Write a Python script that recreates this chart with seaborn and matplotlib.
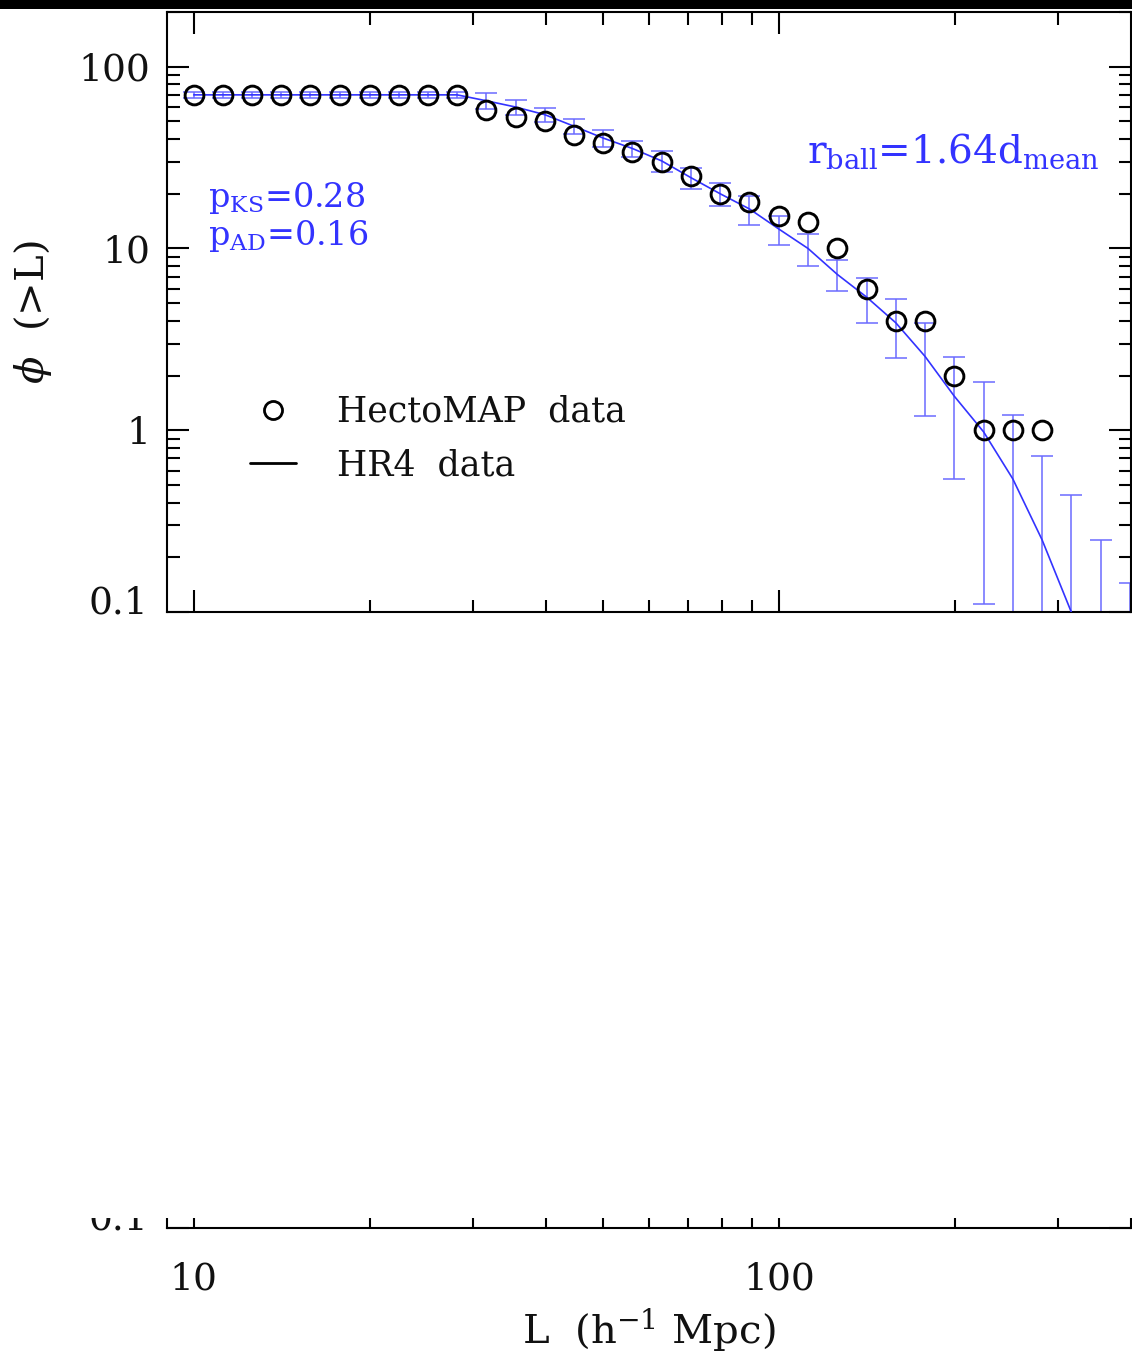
import numpy as np
import pandas as pd
import matplotlib
matplotlib.use("Agg")
import matplotlib.pyplot as plt
import seaborn as sns
from matplotlib.patches import Rectangle
from matplotlib.lines import Line2D
from matplotlib.ticker import FixedLocator, NullFormatter, FixedFormatter

# ---------------- data ----------------
L_bins = [10.0, 11.2, 12.6, 14.1, 15.8, 17.8, 20.0, 22.4, 25.1, 28.2,
          31.6, 35.5, 39.8, 44.7, 50.1, 56.2, 63.1, 70.8, 79.4, 89.1,
          100.0, 112.2, 125.9, 141.3, 158.5, 177.8, 199.5, 223.9, 251.2, 281.8,
          316.2, 354.8, 398.1]

hecto_phi = [70, 70, 70, 70, 70, 70, 70, 70, 70, 70,
             58, 53, 50, 42, 38, 34, 30, 25, 20, 18,
             15, 14, 10, 6, 4, 4, 2, 1, 1, 1]

hr4_phi = [70, 70, 70, 70, 70, 70, 70, 70, 70, 70,
           65, 60, 54.5, 47, 40.5, 35.5, 30.3, 24.5, 20.0, 16.5,
           12.8, 10.0, 7.2, 5.4, 3.9, 2.55, 1.54, 0.98, 0.54, 0.25,
           0.10, 0.05, 0.02]

hr4_err = [2.5, 2.5, 2.5, 2.5, 2.5, 2.5, 2.5, 2.5, 2.5, 2.5,
           6.5, 5.5, 5.0, 4.5, 4.3, 3.5, 4.0, 3.3, 2.8, 3.0,
           2.3, 1.95, 1.4, 1.5, 1.4, 1.35, 1.0, 0.87, 0.67, 0.47,
           0.34, 0.2, 0.125]

y_ticks = [0.1, 1, 10, 100]
y_ticklabels = ["", "1", "10", "100"]   # "0.1" drawn separately (sits on the axis)
bottom_label = "0.1"
x_ticks = [10, 100]
x_ticklabels = ["10", "100"]
x_minor = [20, 30, 40, 50, 60, 70, 80, 90, 200, 300]
y_minor = [0.2, 0.3, 0.4, 0.5, 0.6, 0.7, 0.8, 0.9,
           2, 3, 4, 5, 6, 7, 8, 9, 20, 30, 40, 50, 60, 70, 80, 90, 200]

hecto_df = pd.DataFrame({"L": L_bins[:len(hecto_phi)], "phi": hecto_phi})
hr4_df = pd.DataFrame({"L": L_bins, "phi": hr4_phi, "err": hr4_err})

# ---------------- style ----------------
sns.set_theme(style="ticks")
plt.rcParams["font.family"] = ["DejaVu Serif"]
plt.rcParams["mathtext.fontset"] = "dejavuserif"
plt.rcParams["axes.linewidth"] = 1.5

BLUE_LINE = (0.2, 0.2, 1.0)
BLUE_ERR = (0.42, 0.42, 1.0)
BLUE_TXT = (0.2, 0.2, 1.0)
INK = "#111111"
TICK_FS = 27

W, H = 1132, 1353
fig = plt.figure(figsize=(W / 100, H / 100), dpi=100)
fig.patch.set_facecolor("white")

left = 167 / W
width = (1131 - 167) / W
h_ax = 600 / H
ax = fig.add_axes([left, 1 - 612 / H, width, h_ax])
ax2 = fig.add_axes([left, 1 - 1228 / H, width, h_ax])


def style_axis(a, show_x_labels):
    a.set_xscale("log")
    a.set_yscale("log")
    a.set_xlim(9, 400)
    a.set_ylim(0.1, 200)
    a.set_facecolor("white")
    for s in a.spines.values():
        s.set_visible(True)
        s.set_linewidth(1.5)
        s.set_color("black")
    a.xaxis.set_major_locator(FixedLocator(x_ticks))
    a.xaxis.set_minor_locator(FixedLocator(x_minor))
    a.yaxis.set_major_locator(FixedLocator(y_ticks))
    a.yaxis.set_minor_locator(FixedLocator(y_minor))
    a.yaxis.set_major_formatter(FixedFormatter(y_ticklabels))
    a.yaxis.set_minor_formatter(NullFormatter())
    a.xaxis.set_minor_formatter(NullFormatter())
    if show_x_labels:
        a.xaxis.set_major_formatter(FixedFormatter(x_ticklabels))
    else:
        a.xaxis.set_major_formatter(NullFormatter())
    a.tick_params(which="both", direction="in", top=True, right=True,
                  width=1.5, color="black", labelsize=TICK_FS, labelcolor=INK)
    a.tick_params(which="major", length=16)
    a.tick_params(which="minor", length=9)
    a.tick_params(axis="y", which="major", pad=12)
    a.tick_params(axis="x", which="major", pad=24)
    a.grid(False)
    # lowest y tick label, lifted so it sits on the bottom axis line
    a.text(-0.019, -0.002, bottom_label, transform=a.transAxes, ha="right",
           va="baseline", fontsize=TICK_FS, color=INK, clip_on=False)


style_axis(ax, False)
style_axis(ax2, True)

# ---------------- top panel ----------------
ax.errorbar(hr4_df["L"], hr4_df["phi"], yerr=hr4_df["err"], fmt="none",
            ecolor=BLUE_ERR, elinewidth=1.1, capsize=8, capthick=1.1, zorder=2)
sns.lineplot(data=hr4_df, x="L", y="phi", ax=ax, color=BLUE_LINE, lw=1.2,
             estimator=None, sort=False, zorder=3)
sns.lineplot(data=hecto_df, x="L", y="phi", ax=ax, estimator=None, sort=False,
             marker="o", linestyle="none", markersize=13.5, markerfacecolor="none",
             markeredgecolor="black", markeredgewidth=2.1, color="black", zorder=4)

ax.set_xlabel("")
ax.set_ylabel(r"$\phi$  (>L)", fontsize=29, color=INK)
ax.yaxis.set_label_coords(-0.117, 0.5)

ax.text(0.043, 0.6755, r"$\mathrm{p_{KS}}$=0.28", transform=ax.transAxes,
        fontsize=24, color=BLUE_TXT, ha="left", va="baseline")
ax.text(0.043, 0.6117, r"$\mathrm{p_{AD}}$=0.16", transform=ax.transAxes,
        fontsize=24, color=BLUE_TXT, ha="left", va="baseline")
ax.text(0.664, 0.748, r"$\mathrm{r_{ball}}$=1.64$\mathrm{d_{mean}}$",
        transform=ax.transAxes, fontsize=28, color=BLUE_TXT, ha="left", va="baseline")

handles = [Line2D([], [], marker="o", linestyle="none", markersize=13,
                  markerfacecolor="none", markeredgecolor="black", markeredgewidth=2.0),
           Line2D([], [], color="black", lw=2.0)]
leg = ax.legend(handles, ["HectoMAP  data", "HR4  data"], loc="center left",
                bbox_to_anchor=((250 - 167) / 964, (612 - 438.5) / 600),
                frameon=False, fontsize=25, handlelength=1.33, handletextpad=1.18,
                labelspacing=0.55, borderpad=0, borderaxespad=0)
for t in leg.get_texts():
    t.set_color(INK)

# ---------------- bottom panel (mostly out of view) ----------------
ax2.set_xlabel(r"L  (h$^{-1}$ Mpc)", fontsize=29, color=INK)
ax2.xaxis.set_label_coords(0.5, -0.13)
ax2.set_ylabel("")

# blank band between the panels, and dark strip at top edge
fig.add_artist(Rectangle((0, 1 - 1218 / H), 1, (1218 - 616) / H,
                         transform=fig.transFigure, facecolor="white",
                         edgecolor="none", zorder=10))
fig.add_artist(Rectangle((0, 1 - 9 / H), 1, 9 / H, transform=fig.transFigure,
                         facecolor="black", edgecolor="none", zorder=11))

fig.savefig("out.png", dpi=100, facecolor="white")
